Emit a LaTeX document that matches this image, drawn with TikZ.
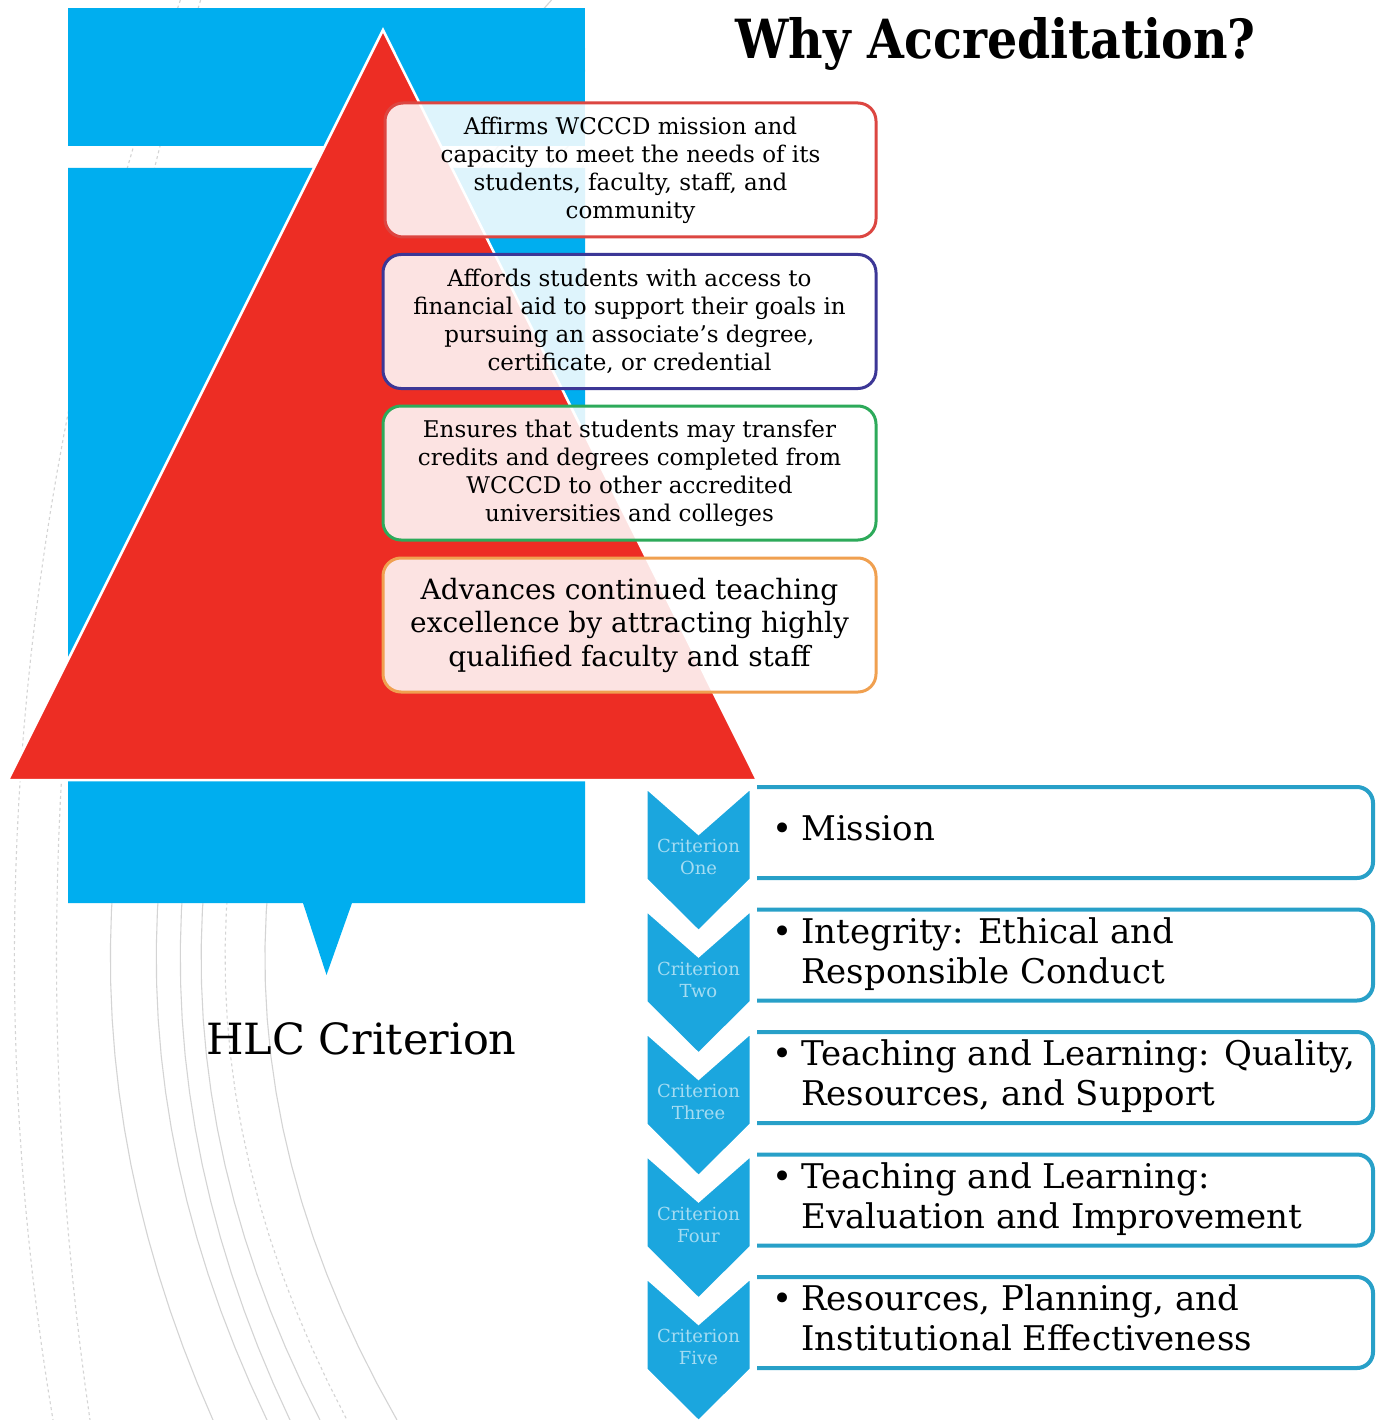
\documentclass[tikz,border=0pt]{standalone}
\usepackage{fontspec}
\setmainfont{DejaVu Serif}
\newfontfamily\titlefont{DejaVu Serif}[FakeStretch=0.88]
\definecolor{skyb}{RGB}{0,174,239}
\definecolor{redtri}{RGB}{237,45,36}
\definecolor{bred}{RGB}{220,70,65}
\definecolor{bpurp}{RGB}{60,55,150}
\definecolor{bgreen}{RGB}{45,170,90}
\definecolor{borange}{RGB}{240,160,80}
\definecolor{cteal}{RGB}{40,160,200}
\definecolor{chevblue}{RGB}{27,166,222}
\definecolor{chevtxt}{RGB}{165,220,242}
\definecolor{bglc}{RGB}{212,212,212}
\tikzset{
  bgline/.style={draw=bglc, line width=1.1},
  tbox/.style={rounded corners=18, fill=white, fill opacity=0.87, text opacity=1,
    line width=3, align=center, inner sep=0, minimum width=491, minimum height=134},
  smalltext/.style={font=\fontsize{23}{28}\selectfont},
  bigtext/.style={font=\fontsize{28}{33.5}\selectfont},
  cboxline/.style={rounded corners=16, draw=cteal, line width=4},
  chev/.style={fill=chevblue, draw=white, line width=5, line join=miter},
  chevlbl/.style={text=chevtxt, align=center, font=\fontsize{18}{22}\selectfont, inner sep=0},
  crit/.style={anchor=west, inner sep=0, font=\fontsize{34}{40}\selectfont}
}
\begin{document}
\begin{tikzpicture}[x=1pt,y=-1pt]
\useasboundingbox (0,0) rectangle (1381,1420);
\fill[white] (0,0) rectangle (1381,1420);
% background arcs
\begin{scope}
\clip (0,0) rectangle (585,1420);
\foreach \a/\b/\st in {15/53/dashed, 57/90/dashed, 112/213/solid, 158/267/solid, 182/290/solid, 203/320/solid, 227/347/dashed, 267/397/solid}{
  \pgfmathsetmacro\K{(\b-\a)/21.008}
  \pgfmathsetmacro\xv{\a-\K*0.3364}
  \draw[bgline,\st] plot[domain=0:1420,samples=40,variable=\t] ({\xv+\K*((\t-958)/100)*((\t-958)/100)},\t);
}
\end{scope}
% blue callout shapes
\fill[skyb] (68,8) rectangle (585,146);
\fill[skyb] (68,168) -- (585,168) -- (585,903) -- (352,903) -- (326.5,975) -- (303,903) -- (68,903) -- cycle;
% red triangle
\filldraw[fill=redtri, draw=white, line width=2.5, line join=miter] (383,30) -- (757,780) -- (8,780) -- cycle;
% text boxes
\node[tbox, draw=bred, smalltext] (b1) at (630.5,170) {Affirms WCCCD mission and\\capacity to meet the needs of its\\students, faculty, staff, and\\community};
\node[tbox, draw=bpurp, smalltext, minimum width=493] (b2) at (629.5,321.5) {Affords students with access to\\financial aid to support their goals in\\pursuing an associate's degree,\\certificate, or credential};
\node[tbox, draw=bgreen, smalltext, minimum width=493] (b3) at (629.5,473) {Ensures that students may transfer\\credits and degrees completed from\\WCCCD to other accredited\\universities and colleges};
\node[tbox, draw=borange, bigtext, minimum width=493] (b4) at (629.5,625) {Advances continued teaching\\excellence by attracting highly\\qualified faculty and staff};
% title
\node[anchor=base west, inner sep=0, font=\titlefont\bfseries\fontsize{54}{60}\selectfont] (title) at (735,59) {Why Accreditation?};
% HLC label
\node[anchor=base west, inner sep=0, font=\fontsize{43}{50}\selectfont] (hlc) at (206,1054) {HLC Criterion};
% criterion boxes (open on the left, against the chevrons)
\foreach \i in {0,...,4}{
  \pgfmathsetmacro\yt{787+122.5*\i}
  \pgfmathsetmacro\yb{\yt+91}
  \fill[white] (757,\yt) rectangle (1371,\yb);
  \draw[cboxline] (757,\yt) -- (1373,\yt) -- (1373,\yb) -- (757,\yb);
}
% chevrons
\foreach \i/\nm in {0/One,1/Two,2/Three,3/Four,4/Five}{
  \pgfmathsetmacro\yt{785+122.5*\i}
  \filldraw[chev] (645,\yt) -- (698.5,\yt+47) -- (752,\yt) -- (752,\yt+95) -- (698.5,\yt+148) -- (645,\yt+95) -- cycle;
  \node[chevlbl] (lbl\i) at (698.5,\yt+72) {Criterion\\\nm};
}
% criterion texts
\node[crit] (t1) at (772,832.5) {\begin{tabular}{@{}l@{\hspace{9pt}}l@{}}•&Mission\end{tabular}};
\node[crit] (t2) at (772,955) {\begin{tabular}{@{}l@{\hspace{9pt}}l@{}}•&Integrity: Ethical and\\&Responsible Conduct\end{tabular}};
\node[crit] (t3) at (772,1077.5) {\begin{tabular}{@{}l@{\hspace{9pt}}l@{}}•&Teaching and Learning: Quality,\\&Resources, and Support\end{tabular}};
\node[crit] (t4) at (772,1200) {\begin{tabular}{@{}l@{\hspace{9pt}}l@{}}•&Teaching and Learning:\\&Evaluation and Improvement\end{tabular}};
\node[crit] (t5) at (772,1322.5) {\begin{tabular}{@{}l@{\hspace{9pt}}l@{}}•&Resources, Planning, and\\&Institutional Effectiveness\end{tabular}};
\end{tikzpicture}
\end{document}
